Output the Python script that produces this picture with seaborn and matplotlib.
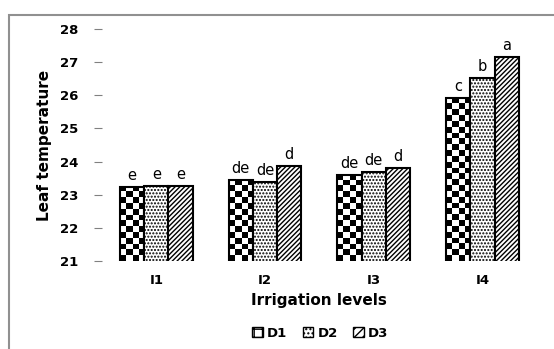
import numpy as np
import pandas as pd
import matplotlib
matplotlib.use('Agg')
import matplotlib.pyplot as plt
from matplotlib.patches import Patch, Rectangle
import seaborn as sns

# datos
niveles = ['I1', 'I2', 'I3', 'I4']
d1 = [23.23, 23.44, 23.59, 25.92]
d2 = [23.25, 23.37, 23.69, 26.53]
d3 = [23.25, 23.86, 23.82, 27.16]
letras_d1 = ['e', 'de', 'de', 'c']
letras_d2 = ['e', 'de', 'de', 'b']
letras_d3 = ['e', 'd', 'd', 'a']
tratamientos = ['D1', 'D2', 'D3']
y_ticks = [21, 22, 23, 24, 25, 26, 27, 28]

df = pd.DataFrame({
    'Nivel': niveles * 3,
    'Tratamiento': [t for t in tratamientos for _ in niveles],
    'Temp': d1 + d2 + d3,
})
letras = [letras_d1, letras_d2, letras_d3]

sns.set_style('white')
plt.rcParams['font.family'] = ['DejaVu Sans']
plt.rcParams['hatch.linewidth'] = 1.0
plt.rcParams['text.color'] = 'black'
plt.rcParams['axes.labelcolor'] = 'black'

fig = plt.figure(figsize=(5.54, 3.49), dpi=100)
ax = fig.add_axes([0.184, 0.252, 0.785, 0.665])

sns.barplot(data=df, x='Nivel', y='Temp', hue='Tratamiento', order=niveles,
            hue_order=tratamientos, palette=['white'] * 3, width=0.67,
            edgecolor='black', linewidth=1.5, legend=False, ax=ax, errorbar=None)

ax.set_ylim(21, 28)
ax.set_xlim(-0.5, 3.5)

# patron de tablero para D1
tablero = np.indices((40, 72)).sum(axis=0) % 2
hatches = [None, '.....', '///////']
for i, cont in enumerate(ax.containers):
    for j, barra in enumerate(cont):
        barra.set_zorder(3)
        if i == 0:
            barra.set_facecolor('none')
            im = ax.imshow(tablero, cmap='gray', extent=[-0.5, 3.5, 21, 28],
                           aspect='auto', interpolation='nearest', zorder=2)
            im.set_clip_path(barra)
        else:
            barra.set_hatch(hatches[i])
        x = barra.get_x() + barra.get_width() / 2
        ax.text(x, barra.get_height() + 0.12, letras[i][j], ha='center',
                va='bottom', fontsize=10.5, color='black')

ax.set_xlim(-0.5, 3.5)
ax.set_ylim(21, 28)
ax.set_yticks(y_ticks)
ax.set_yticklabels([str(t) for t in y_ticks], fontsize=9.5, fontweight='bold')
ax.set_xticks(range(len(niveles)))
ax.set_xticklabels(niveles, fontsize=9.5, fontweight='bold')
ax.tick_params(axis='y', length=6, width=0.8, color='#808080', labelcolor='black',
               pad=11, left=True)
ax.tick_params(axis='x', length=0, pad=9, labelcolor='black')
for s in ax.spines.values():
    s.set_visible(False)

ax.set_xlabel('Irrigation levels', fontsize=11, fontweight='bold', labelpad=5)
ax.set_ylabel('Leaf temperature', fontsize=11, fontweight='bold', labelpad=6)

manijas = [Patch(facecolor='white', edgecolor='black', hatch='++'),
           Patch(facecolor='white', edgecolor='black', hatch='....'),
           Patch(facecolor='white', edgecolor='black', hatch='////')]
fig.legend(manijas, tratamientos, loc='center', bbox_to_anchor=(0.578, 0.045),
           ncol=3, frameon=False, handlelength=0.8, handleheight=0.8,
           handletextpad=0.3, columnspacing=1.2, prop={'weight': 'bold', 'size': 9.5})

# marco gris exterior
fig.patches.append(Rectangle((0.016, -0.1), 1.2, 1.058, transform=fig.transFigure,
                             fill=False, edgecolor='#909090', linewidth=1.5))

plt.savefig('out.png', dpi=100)
